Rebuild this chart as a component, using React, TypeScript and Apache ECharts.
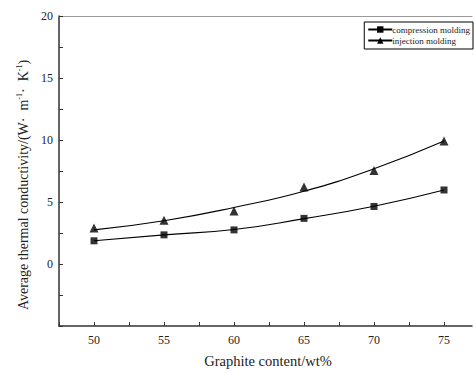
import React, { useEffect, useRef } from "react";
import * as echarts from "echarts";

const graphite = [50, 55, 60, 65, 70, 75];
const compression = [1.87, 2.35, 2.75, 3.68, 4.64, 5.97];
const compressionFit = [1.87, 2.35, 2.78, 3.66, 4.66, 5.97];
const injection = [2.9, 3.52, 4.27, 6.21, 7.55, 9.92];
const injectionFit = [2.75, 3.49, 4.56, 5.87, 7.68, 9.92];
const yLabels = [0, 5, 10, 15, 20];
const xLabels = [50, 55, 60, 65, 70, 75];

const FONT = "Liberation Serif";

export default function App() {
  const ref = useRef<HTMLDivElement>(null);
  useEffect(() => {
    if (!ref.current) return;
    document.body.style.margin = "0";
    document.body.style.overflow = "hidden";
    document.documentElement.style.overflow = "hidden";
    const chart = echarts.init(ref.current, null, { renderer: "svg" });
    const pair = (xs: number[], ys: number[]) => xs.map((x, i) => [x, ys[i]]);
    chart.setOption({
      animation: false,
      backgroundColor: "#fff",
      textStyle: { fontFamily: FONT, color: "#222" },
      grid: { left: 59, top: 16, width: 413, height: 312.5, containLabel: false, show: false },
      legend: {
        orient: "vertical",
        right: 1,
        top: 22,
        itemWidth: 24,
        itemHeight: 8,
        itemGap: 2,
        padding: [3, 3, 4, 3],
        borderColor: "#000",
        borderWidth: 1,
        backgroundColor: "#fff",
        textStyle: { fontFamily: FONT, fontSize: 9, color: "#222", padding: [0, 0, 0, -5] },
        data: ["compression molding", "injection molding"],
      },
      xAxis: [
        {
          type: "value",
          min: 47.5,
          max: 77,
          interval: 2.5,
          name: "Graphite content/wt%",
          nameLocation: "middle",
          nameGap: 27,
          nameTextStyle: { fontFamily: FONT, fontSize: 14.5, color: "#222", padding: [0, 0, 0, 5] },
          axisLine: { show: true, onZero: false, lineStyle: { color: "#333", width: 1.5 } },
          axisTick: { show: true, inside: true, length: 4, lineStyle: { color: "#333" } },
          axisLabel: {
            fontFamily: FONT,
            fontSize: 12,
            color: "#222",
            margin: 8,
            showMaxLabel: false,
            formatter: (v: number) => (xLabels.includes(v) ? String(v) : ""),
          },
          splitLine: { show: false },
        },
        {
          type: "value",
          position: "top",
          min: 47.5,
          max: 77,
          axisLine: { show: true, onZero: false, lineStyle: { color: "#999", width: 1 } },
          axisTick: { show: false },
          axisLabel: { show: false },
          splitLine: { show: false },
        },
      ],
      yAxis: {
        type: "value",
        min: -5,
        max: 20,
        interval: 2.5,
        name: "{n|Average thermal conductivity/(W·  m}{s|-1}{n|·  K}{s|-1}{n|)}",
        nameLocation: "middle",
        nameRotate: 90,
        nameGap: 22,
        nameTextStyle: {
          fontFamily: FONT,
          fontSize: 14,
          color: "#222",
          padding: [0, 28, 0, 0],
          rich: {
            n: { fontFamily: FONT, fontSize: 14, color: "#222", lineHeight: 16 },
            s: { fontFamily: FONT, fontSize: 8, color: "#222", verticalAlign: "top", lineHeight: 16 },
          },
        },
        axisLine: { show: true, onZero: false, lineStyle: { color: "#333", width: 1.5 } },
        axisTick: { show: true, inside: true, length: 4, lineStyle: { color: "#333" } },
        axisLabel: {
          fontFamily: FONT,
          fontSize: 12,
          color: "#222",
          margin: 6,
          formatter: (v: number) => (yLabels.includes(v) ? String(v) : ""),
        },
        splitLine: { show: false },
      },
      series: [
        {
          name: "compression molding",
          type: "line",
          smooth: true,
          data: pair(graphite, compressionFit),
          symbol: "rect",
          symbolSize: 7,
          showSymbol: false,
          color: "#000",
          lineStyle: { color: "#000", width: 1.1 },
          itemStyle: { color: "#000" },
          z: 2,
        },
        {
          name: "compression molding",
          type: "scatter",
          data: pair(graphite, compression),
          symbol: "rect",
          symbolSize: 7,
          itemStyle: { color: "#000" },
          z: 3,
        },
        {
          name: "injection molding",
          type: "line",
          smooth: true,
          data: pair(graphite, injectionFit),
          symbol: "triangle",
          symbolSize: 9,
          showSymbol: false,
          color: "#000",
          lineStyle: { color: "#000", width: 1.1 },
          itemStyle: { color: "#000" },
          z: 2,
        },
        {
          name: "injection molding",
          type: "scatter",
          data: pair(graphite, injection),
          symbol: "triangle",
          symbolSize: 9,
          itemStyle: { color: "#000" },
          z: 3,
        },
      ],
    });
    return () => chart.dispose();
  }, []);
  return (
    <div
      ref={ref}
      style={{
        position: "fixed",
        left: 0,
        top: 0,
        width: 474,
        height: 373,
        overflow: "hidden",
        background: "#fff",
      }}
    />
  );
}
